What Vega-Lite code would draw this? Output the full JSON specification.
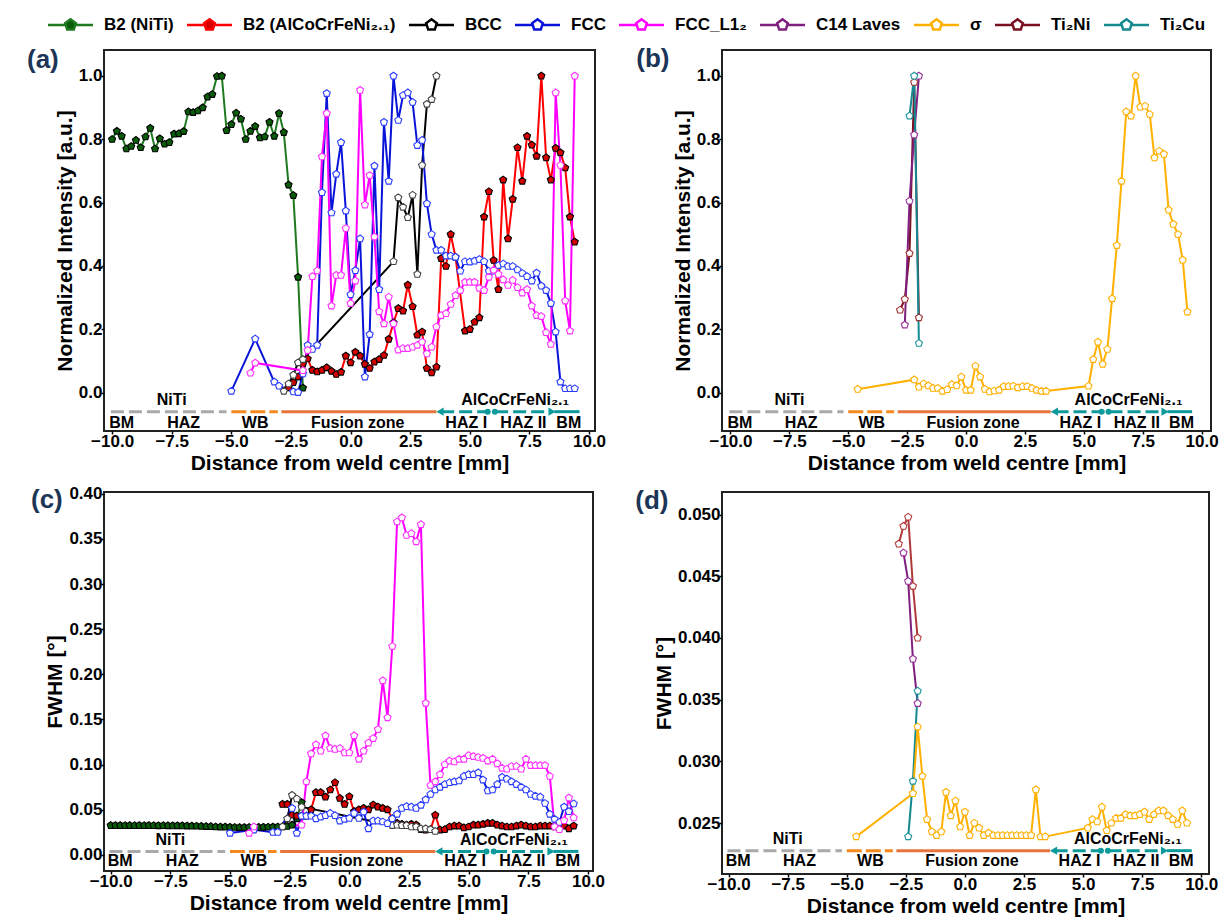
{
"$schema":"https://vega.github.io/schema/vega-lite/v6.json",
"background":"white",
"padding":{"left":25,"top":11,"right":0,"bottom":0},
"config":{"view":{"stroke":"#222","strokeWidth":2},"font":"Liberation Sans",
"axis":{"labelFont":"Liberation Sans","labelFontWeight":"bold","labelFontSize":17,"labelColor":"#000","titleFont":"Liberation Sans","titleFontWeight":"bold","titleFontSize":21,"titleColor":"#000","tickColor":"#000","tickWidth":1.5,"tickSize":3,"labelPadding":-1,"domain":false,"grid":false,"titlePadding":3}},
"datasets":{
"zones":[{"k":"g","x":-10.05,"x2":-5.2},{"k":"o","x":-5.0,"x2":-3.05},{"k":"f","x":-2.9,"x2":3.6},{"k":"t","x":3.8,"x2":8.45},{"k":"s","x":8.55,"x2":9.6}],
"zlab":[{"r":"u","x":-7.5,"t":"NiTi"},{"r":"u","x":6.9,"t":"AlCoCrFeNi₂.₁"},{"r":"l","x":-9.6,"t":"BM"},{"r":"l","x":-7.0,"t":"HAZ"},{"r":"l","x":-4.0,"t":"WB"},{"r":"l","x":0.3,"t":"Fusion zone"},{"r":"l","x":4.85,"t":"HAZ I"},{"r":"l","x":7.25,"t":"HAZ II"},{"r":"l","x":9.15,"t":"BM"}],
"a":[
{"s":"B2N","x":-10,"y":0.8},{"s":"B2N","x":-9.8,"y":0.826},{"s":"B2N","x":-9.6,"y":0.81},{"s":"B2N","x":-9.4,"y":0.77},{"s":"B2N","x":-9.2,"y":0.778},{"s":"B2N","x":-9.0,"y":0.797},{"s":"B2N","x":-8.8,"y":0.774},{"s":"B2N","x":-8.6,"y":0.808},{"s":"B2N","x":-8.4,"y":0.835},{"s":"B2N","x":-8.2,"y":0.77},{"s":"B2N","x":-8.0,"y":0.802},{"s":"B2N","x":-7.8,"y":0.785},{"s":"B2N","x":-7.6,"y":0.79},{"s":"B2N","x":-7.4,"y":0.817},{"s":"B2N","x":-7.2,"y":0.818},{"s":"B2N","x":-7.0,"y":0.825},{"s":"B2N","x":-6.8,"y":0.887},{"s":"B2N","x":-6.6,"y":0.885},{"s":"B2N","x":-6.4,"y":0.89},{"s":"B2N","x":-6.2,"y":0.9},{"s":"B2N","x":-6.0,"y":0.934},{"s":"B2N","x":-5.8,"y":0.942},{"s":"B2N","x":-5.6,"y":0.999},{"s":"B2N","x":-5.4,"y":1.0},{"s":"B2N","x":-5.2,"y":0.828},{"s":"B2N","x":-5.0,"y":0.847},{"s":"B2N","x":-4.8,"y":0.883},{"s":"B2N","x":-4.6,"y":0.864},{"s":"B2N","x":-4.4,"y":0.8},{"s":"B2N","x":-4.2,"y":0.826},{"s":"B2N","x":-4.0,"y":0.841},{"s":"B2N","x":-3.8,"y":0.805},{"s":"B2N","x":-3.6,"y":0.808},{"s":"B2N","x":-3.4,"y":0.854},{"s":"B2N","x":-3.2,"y":0.81},{"s":"B2N","x":-3.0,"y":0.882},{"s":"B2N","x":-2.8,"y":0.822},{"s":"B2N","x":-2.6,"y":0.656},{"s":"B2N","x":-2.4,"y":0.623},{"s":"B2N","x":-2.2,"y":0.365},{"s":"B2N","x":-2.0,"y":0.015},
{"s":"B2A","x":-2.6,"y":0.016},{"s":"B2A","x":-2.4,"y":0.032},{"s":"B2A","x":-2.2,"y":0.05},{"s":"B2A","x":-2.0,"y":0.09},{"s":"B2A","x":-1.8,"y":0.107},{"s":"B2A","x":-1.6,"y":0.071},{"s":"B2A","x":-1.4,"y":0.066},{"s":"B2A","x":-1.2,"y":0.071},{"s":"B2A","x":-1.0,"y":0.079},{"s":"B2A","x":-0.8,"y":0.068},{"s":"B2A","x":-0.6,"y":0.058},{"s":"B2A","x":-0.4,"y":0.065},{"s":"B2A","x":-0.2,"y":0.116},{"s":"B2A","x":0.0,"y":0.095},{"s":"B2A","x":0.2,"y":0.128},{"s":"B2A","x":0.4,"y":0.116},{"s":"B2A","x":0.6,"y":0.09},{"s":"B2A","x":0.8,"y":0.077},{"s":"B2A","x":1.0,"y":0.097},{"s":"B2A","x":1.2,"y":0.105},{"s":"B2A","x":1.4,"y":0.118},{"s":"B2A","x":1.6,"y":0.169},{"s":"B2A","x":1.8,"y":0.221},{"s":"B2A","x":2.0,"y":0.266},{"s":"B2A","x":2.2,"y":0.258},{"s":"B2A","x":2.4,"y":0.34},{"s":"B2A","x":2.6,"y":0.272},{"s":"B2A","x":2.8,"y":0.182},{"s":"B2A","x":3.0,"y":0.192},{"s":"B2A","x":3.2,"y":0.077},{"s":"B2A","x":3.4,"y":0.063},{"s":"B2A","x":3.6,"y":0.081},{"s":"B2A","x":3.8,"y":0.424},{"s":"B2A","x":4.0,"y":0.399},{"s":"B2A","x":4.2,"y":0.5},{"s":"B2A","x":4.4,"y":0.428},{"s":"B2A","x":4.8,"y":0.195},{"s":"B2A","x":5.0,"y":0.2},{"s":"B2A","x":5.2,"y":0.223},{"s":"B2A","x":5.4,"y":0.237},{"s":"B2A","x":5.6,"y":0.555},{"s":"B2A","x":5.8,"y":0.635},{"s":"B2A","x":6.0,"y":0.418},{"s":"B2A","x":6.2,"y":0.326},{"s":"B2A","x":6.4,"y":0.672},{"s":"B2A","x":6.6,"y":0.486},{"s":"B2A","x":6.8,"y":0.611},{"s":"B2A","x":7.0,"y":0.774},{"s":"B2A","x":7.2,"y":0.668},{"s":"B2A","x":7.4,"y":0.81},{"s":"B2A","x":7.6,"y":0.782},{"s":"B2A","x":7.8,"y":0.747},{"s":"B2A","x":8.0,"y":1.0},{"s":"B2A","x":8.2,"y":0.742},{"s":"B2A","x":8.4,"y":0.672},{"s":"B2A","x":8.6,"y":0.772},{"s":"B2A","x":8.8,"y":0.758},{"s":"B2A","x":9.0,"y":0.71},{"s":"B2A","x":9.2,"y":0.555},{"s":"B2A","x":9.4,"y":0.476},
{"s":"BCC","x":-2.8,"y":0.005},{"s":"BCC","x":-2.6,"y":0.028},{"s":"BCC","x":-2.4,"y":0.056},{"s":"BCC","x":-2.2,"y":0.095},{"s":"BCC","x":-2.0,"y":0.105},{"s":"BCC","x":1.8,"y":0.414},{"s":"BCC","x":2.0,"y":0.616},{"s":"BCC","x":2.2,"y":0.586},{"s":"BCC","x":2.4,"y":0.553},{"s":"BCC","x":2.6,"y":0.624},{"s":"BCC","x":2.8,"y":0.374},{"s":"BCC","x":3.0,"y":0.718},{"s":"BCC","x":3.2,"y":0.911},{"s":"BCC","x":3.4,"y":0.926},{"s":"BCC","x":3.6,"y":1.0},
{"s":"FCC","x":-5.0,"y":0.005},{"s":"FCC","x":-4.0,"y":0.17},{"s":"FCC","x":-3.2,"y":0.034},{"s":"FCC","x":-3.0,"y":0.021},{"s":"FCC","x":-2.4,"y":0.003},{"s":"FCC","x":-2.2,"y":0.001},{"s":"FCC","x":-2.0,"y":0.06},{"s":"FCC","x":-1.8,"y":0.15},{"s":"FCC","x":-1.6,"y":0.137},{"s":"FCC","x":-1.4,"y":0.15},{"s":"FCC","x":-1.2,"y":0.632},{"s":"FCC","x":-1.0,"y":0.945},{"s":"FCC","x":-0.8,"y":0.568},{"s":"FCC","x":-0.6,"y":0.69},{"s":"FCC","x":-0.4,"y":0.79},{"s":"FCC","x":-0.2,"y":0.574},{"s":"FCC","x":0.0,"y":0.31},{"s":"FCC","x":0.2,"y":0.386},{"s":"FCC","x":0.4,"y":0.486},{"s":"FCC","x":0.6,"y":0.05},{"s":"FCC","x":0.8,"y":0.184},{"s":"FCC","x":1.0,"y":0.716},{"s":"FCC","x":1.2,"y":0.326},{"s":"FCC","x":1.4,"y":0.854},{"s":"FCC","x":1.6,"y":0.668},{"s":"FCC","x":1.8,"y":1.0},{"s":"FCC","x":2.0,"y":0.86},{"s":"FCC","x":2.2,"y":0.939},{"s":"FCC","x":2.4,"y":0.947},{"s":"FCC","x":2.6,"y":0.917},{"s":"FCC","x":2.8,"y":0.781},{"s":"FCC","x":3.0,"y":0.797},{"s":"FCC","x":3.2,"y":0.597},{"s":"FCC","x":3.4,"y":0.5},{"s":"FCC","x":3.6,"y":0.45},{"s":"FCC","x":3.8,"y":0.45},{"s":"FCC","x":4.0,"y":0.432},{"s":"FCC","x":4.2,"y":0.432},{"s":"FCC","x":4.4,"y":0.428},{"s":"FCC","x":4.6,"y":0.384},{"s":"FCC","x":4.8,"y":0.414},{"s":"FCC","x":5.0,"y":0.413},{"s":"FCC","x":5.2,"y":0.416},{"s":"FCC","x":5.4,"y":0.421},{"s":"FCC","x":5.6,"y":0.414},{"s":"FCC","x":5.8,"y":0.384},{"s":"FCC","x":6.0,"y":0.384},{"s":"FCC","x":6.2,"y":0.402},{"s":"FCC","x":6.4,"y":0.407},{"s":"FCC","x":6.6,"y":0.399},{"s":"FCC","x":6.8,"y":0.399},{"s":"FCC","x":7.0,"y":0.388},{"s":"FCC","x":7.2,"y":0.377},{"s":"FCC","x":7.4,"y":0.367},{"s":"FCC","x":7.6,"y":0.353},{"s":"FCC","x":7.8,"y":0.378},{"s":"FCC","x":8.0,"y":0.337},{"s":"FCC","x":8.2,"y":0.323},{"s":"FCC","x":8.4,"y":0.282},{"s":"FCC","x":8.6,"y":0.192},{"s":"FCC","x":8.8,"y":0.034},{"s":"FCC","x":9.0,"y":0.013},{"s":"FCC","x":9.2,"y":0.013},{"s":"FCC","x":9.4,"y":0.013},
{"s":"L12","x":-4.2,"y":0.062},{"s":"L12","x":-4.0,"y":0.094},{"s":"L12","x":-2.0,"y":0.07},{"s":"L12","x":-1.8,"y":0.134},{"s":"L12","x":-1.6,"y":0.367},{"s":"L12","x":-1.4,"y":0.385},{"s":"L12","x":-1.2,"y":0.745},{"s":"L12","x":-1.0,"y":0.882},{"s":"L12","x":-0.8,"y":0.274},{"s":"L12","x":-0.6,"y":0.371},{"s":"L12","x":-0.4,"y":0.371},{"s":"L12","x":-0.2,"y":0.519},{"s":"L12","x":0.0,"y":0.282},{"s":"L12","x":0.2,"y":0.353},{"s":"L12","x":0.4,"y":0.955},{"s":"L12","x":0.6,"y":0.593},{"s":"L12","x":0.8,"y":0.686},{"s":"L12","x":1.0,"y":0.492},{"s":"L12","x":1.2,"y":0.256},{"s":"L12","x":1.4,"y":0.218},{"s":"L12","x":1.6,"y":0.302},{"s":"L12","x":1.8,"y":0.218},{"s":"L12","x":2.0,"y":0.135},{"s":"L12","x":2.2,"y":0.14},{"s":"L12","x":2.4,"y":0.14},{"s":"L12","x":2.6,"y":0.144},{"s":"L12","x":2.8,"y":0.15},{"s":"L12","x":3.0,"y":0.16},{"s":"L12","x":3.2,"y":0.123},{"s":"L12","x":3.4,"y":0.144},{"s":"L12","x":3.6,"y":0.208},{"s":"L12","x":3.8,"y":0.244},{"s":"L12","x":4.0,"y":0.25},{"s":"L12","x":4.2,"y":0.279},{"s":"L12","x":4.4,"y":0.307},{"s":"L12","x":4.6,"y":0.323},{"s":"L12","x":4.8,"y":0.349},{"s":"L12","x":5.0,"y":0.349},{"s":"L12","x":5.2,"y":0.349},{"s":"L12","x":5.4,"y":0.33},{"s":"L12","x":5.6,"y":0.323},{"s":"L12","x":5.8,"y":0.365},{"s":"L12","x":6.0,"y":0.387},{"s":"L12","x":6.2,"y":0.374},{"s":"L12","x":6.4,"y":0.357},{"s":"L12","x":6.6,"y":0.339},{"s":"L12","x":6.8,"y":0.355},{"s":"L12","x":7.0,"y":0.332},{"s":"L12","x":7.2,"y":0.315},{"s":"L12","x":7.4,"y":0.326},{"s":"L12","x":7.6,"y":0.274},{"s":"L12","x":7.8,"y":0.244},{"s":"L12","x":8.0,"y":0.241},{"s":"L12","x":8.2,"y":0.19},{"s":"L12","x":8.4,"y":0.153},{"s":"L12","x":8.6,"y":0.947},{"s":"L12","x":8.8,"y":0.718},{"s":"L12","x":9.0,"y":0.29},{"s":"L12","x":9.2,"y":0.195},{"s":"L12","x":9.4,"y":1.0}
],
"b":[
{"s":"T2N","x":-2.8,"y":0.261},{"s":"T2N","x":-2.6,"y":0.295},{"s":"T2N","x":-2.4,"y":0.44},{"s":"T2N","x":-2.2,"y":0.98},{"s":"T2N","x":-2.0,"y":0.237},
{"s":"C14","x":-2.6,"y":0.214},{"s":"C14","x":-2.4,"y":0.605},{"s":"C14","x":-2.2,"y":0.814},{"s":"C14","x":-2.0,"y":1.0},
{"s":"T2C","x":-2.4,"y":0.874},{"s":"T2C","x":-2.2,"y":1.0},{"s":"T2C","x":-2.0,"y":0.156},
{"s":"SIG","x":-4.6,"y":0.011},{"s":"SIG","x":-2.2,"y":0.041},{"s":"SIG","x":-2.0,"y":0.018},{"s":"SIG","x":-1.8,"y":0.028},{"s":"SIG","x":-1.6,"y":0.022},{"s":"SIG","x":-1.4,"y":0.014},{"s":"SIG","x":-1.2,"y":0.014},{"s":"SIG","x":-1.0,"y":0.005},{"s":"SIG","x":-0.8,"y":0.01},{"s":"SIG","x":-0.6,"y":0.026},{"s":"SIG","x":-0.4,"y":0.022},{"s":"SIG","x":-0.2,"y":0.05},{"s":"SIG","x":0.0,"y":0.008},{"s":"SIG","x":0.2,"y":0.008},{"s":"SIG","x":0.4,"y":0.084},{"s":"SIG","x":0.6,"y":0.05},{"s":"SIG","x":0.8,"y":0.011},{"s":"SIG","x":1.0,"y":0.003},{"s":"SIG","x":1.2,"y":0.006},{"s":"SIG","x":1.4,"y":0.008},{"s":"SIG","x":1.6,"y":0.02},{"s":"SIG","x":1.8,"y":0.02},{"s":"SIG","x":2.0,"y":0.021},{"s":"SIG","x":2.2,"y":0.016},{"s":"SIG","x":2.4,"y":0.02},{"s":"SIG","x":2.6,"y":0.02},{"s":"SIG","x":2.8,"y":0.014},{"s":"SIG","x":3.0,"y":0.008},{"s":"SIG","x":3.2,"y":0.005},{"s":"SIG","x":3.4,"y":0.005},{"s":"SIG","x":5.2,"y":0.021},{"s":"SIG","x":5.4,"y":0.105},{"s":"SIG","x":5.6,"y":0.16},{"s":"SIG","x":5.8,"y":0.09},{"s":"SIG","x":6.0,"y":0.137},{"s":"SIG","x":6.2,"y":0.297},{"s":"SIG","x":6.4,"y":0.465},{"s":"SIG","x":6.6,"y":0.668},{"s":"SIG","x":6.8,"y":0.887},{"s":"SIG","x":7.0,"y":0.874},{"s":"SIG","x":7.2,"y":1.0},{"s":"SIG","x":7.4,"y":0.902},{"s":"SIG","x":7.6,"y":0.905},{"s":"SIG","x":7.8,"y":0.879},{"s":"SIG","x":8.0,"y":0.742},{"s":"SIG","x":8.2,"y":0.763},{"s":"SIG","x":8.4,"y":0.753},{"s":"SIG","x":8.6,"y":0.577},{"s":"SIG","x":8.8,"y":0.532},{"s":"SIG","x":9.0,"y":0.5},{"s":"SIG","x":9.2,"y":0.419},{"s":"SIG","x":9.4,"y":0.255}
],
"c":[
{"s":"B2N","x":-10,"y":0.0325},{"s":"B2N","x":-9.8,"y":0.0325},{"s":"B2N","x":-9.6,"y":0.0325},{"s":"B2N","x":-9.4,"y":0.0324},{"s":"B2N","x":-9.2,"y":0.0325},{"s":"B2N","x":-9.0,"y":0.0324},{"s":"B2N","x":-8.8,"y":0.0325},{"s":"B2N","x":-8.6,"y":0.0324},{"s":"B2N","x":-8.4,"y":0.0325},{"s":"B2N","x":-8.2,"y":0.0324},{"s":"B2N","x":-8.0,"y":0.0323},{"s":"B2N","x":-7.8,"y":0.0324},{"s":"B2N","x":-7.6,"y":0.0323},{"s":"B2N","x":-7.4,"y":0.0322},{"s":"B2N","x":-7.2,"y":0.0323},{"s":"B2N","x":-7.0,"y":0.0322},{"s":"B2N","x":-6.8,"y":0.032},{"s":"B2N","x":-6.6,"y":0.0319},{"s":"B2N","x":-6.4,"y":0.0318},{"s":"B2N","x":-6.2,"y":0.0316},{"s":"B2N","x":-6.0,"y":0.0315},{"s":"B2N","x":-5.8,"y":0.0313},{"s":"B2N","x":-5.6,"y":0.031},{"s":"B2N","x":-5.4,"y":0.0309},{"s":"B2N","x":-5.2,"y":0.0308},{"s":"B2N","x":-5.0,"y":0.0306},{"s":"B2N","x":-4.8,"y":0.0304},{"s":"B2N","x":-4.6,"y":0.0303},{"s":"B2N","x":-4.4,"y":0.0303},{"s":"B2N","x":-4.2,"y":0.0304},{"s":"B2N","x":-4.0,"y":0.0305},{"s":"B2N","x":-3.8,"y":0.0305},{"s":"B2N","x":-3.6,"y":0.0306},{"s":"B2N","x":-3.4,"y":0.0307},{"s":"B2N","x":-3.2,"y":0.0308},{"s":"B2N","x":-3.0,"y":0.0309},{"s":"B2N","x":-2.8,"y":0.0312},{"s":"B2N","x":-2.6,"y":0.0316},{"s":"B2N","x":-2.4,"y":0.033},{"s":"B2N","x":-2.2,"y":0.04},{"s":"B2N","x":-2.0,"y":0.058},
{"s":"B2A","x":-2.8,"y":0.056},{"s":"B2A","x":-2.6,"y":0.056},{"s":"B2A","x":-2.4,"y":0.044},{"s":"B2A","x":-2.2,"y":0.043},{"s":"B2A","x":-2.0,"y":0.043},{"s":"B2A","x":-1.8,"y":0.043},{"s":"B2A","x":-1.6,"y":0.05},{"s":"B2A","x":-1.4,"y":0.069},{"s":"B2A","x":-1.2,"y":0.069},{"s":"B2A","x":-1.0,"y":0.064},{"s":"B2A","x":-0.8,"y":0.072},{"s":"B2A","x":-0.6,"y":0.08},{"s":"B2A","x":-0.4,"y":0.0626},{"s":"B2A","x":-0.2,"y":0.056},{"s":"B2A","x":0.0,"y":0.0645},{"s":"B2A","x":0.2,"y":0.048},{"s":"B2A","x":0.4,"y":0.05},{"s":"B2A","x":0.6,"y":0.0516},{"s":"B2A","x":0.8,"y":0.05},{"s":"B2A","x":1.0,"y":0.0553},{"s":"B2A","x":1.2,"y":0.053},{"s":"B2A","x":1.4,"y":0.0516},{"s":"B2A","x":1.6,"y":0.05},{"s":"B2A","x":1.8,"y":0.04},{"s":"B2A","x":2.0,"y":0.035},{"s":"B2A","x":2.2,"y":0.034},{"s":"B2A","x":2.4,"y":0.033},{"s":"B2A","x":2.6,"y":0.034},{"s":"B2A","x":2.8,"y":0.033},{"s":"B2A","x":3.0,"y":0.028},{"s":"B2A","x":3.2,"y":0.0276},{"s":"B2A","x":3.4,"y":0.028},{"s":"B2A","x":3.6,"y":0.044},{"s":"B2A","x":3.8,"y":0.0276},{"s":"B2A","x":4.0,"y":0.028},{"s":"B2A","x":4.2,"y":0.031},{"s":"B2A","x":4.4,"y":0.032},{"s":"B2A","x":4.6,"y":0.032},{"s":"B2A","x":4.8,"y":0.03},{"s":"B2A","x":5.0,"y":0.031},{"s":"B2A","x":5.2,"y":0.033},{"s":"B2A","x":5.4,"y":0.033},{"s":"B2A","x":5.6,"y":0.034},{"s":"B2A","x":5.8,"y":0.035},{"s":"B2A","x":6.0,"y":0.035},{"s":"B2A","x":6.2,"y":0.033},{"s":"B2A","x":6.4,"y":0.032},{"s":"B2A","x":6.6,"y":0.031},{"s":"B2A","x":6.8,"y":0.031},{"s":"B2A","x":7.0,"y":0.032},{"s":"B2A","x":7.2,"y":0.033},{"s":"B2A","x":7.4,"y":0.032},{"s":"B2A","x":7.6,"y":0.031},{"s":"B2A","x":7.8,"y":0.031},{"s":"B2A","x":8.0,"y":0.032},{"s":"B2A","x":8.2,"y":0.032},{"s":"B2A","x":8.4,"y":0.032},{"s":"B2A","x":8.6,"y":0.031},{"s":"B2A","x":8.8,"y":0.031},{"s":"B2A","x":9.0,"y":0.032},{"s":"B2A","x":9.2,"y":0.029},{"s":"B2A","x":9.4,"y":0.032},
{"s":"BCC","x":-2.8,"y":0.031},{"s":"BCC","x":-2.6,"y":0.04},{"s":"BCC","x":-2.4,"y":0.066},{"s":"BCC","x":-2.2,"y":0.062},{"s":"BCC","x":-2.0,"y":0.053},{"s":"BCC","x":1.8,"y":0.0326},{"s":"BCC","x":2.0,"y":0.033},{"s":"BCC","x":2.2,"y":0.0324},{"s":"BCC","x":2.4,"y":0.0324},{"s":"BCC","x":2.6,"y":0.031},{"s":"BCC","x":2.8,"y":0.031},{"s":"BCC","x":3.0,"y":0.029},{"s":"BCC","x":3.2,"y":0.029},{"s":"BCC","x":3.4,"y":0.028},{"s":"BCC","x":3.6,"y":0.026},
{"s":"FCC","x":-5.0,"y":0.024},{"s":"FCC","x":-4.0,"y":0.0276},{"s":"FCC","x":-3.2,"y":0.025},{"s":"FCC","x":-3.0,"y":0.025},{"s":"FCC","x":-2.4,"y":0.0516},{"s":"FCC","x":-2.2,"y":0.024},{"s":"FCC","x":-2.0,"y":0.043},{"s":"FCC","x":-1.8,"y":0.043},{"s":"FCC","x":-1.6,"y":0.043},{"s":"FCC","x":-1.4,"y":0.04},{"s":"FCC","x":-1.2,"y":0.042},{"s":"FCC","x":-1.0,"y":0.0435},{"s":"FCC","x":-0.8,"y":0.046},{"s":"FCC","x":-0.6,"y":0.0435},{"s":"FCC","x":-0.4,"y":0.0376},{"s":"FCC","x":-0.2,"y":0.0395},{"s":"FCC","x":0.0,"y":0.0405},{"s":"FCC","x":0.2,"y":0.046},{"s":"FCC","x":0.4,"y":0.0405},{"s":"FCC","x":0.6,"y":0.0475},{"s":"FCC","x":0.8,"y":0.029},{"s":"FCC","x":1.0,"y":0.0376},{"s":"FCC","x":1.2,"y":0.0376},{"s":"FCC","x":1.4,"y":0.0365},{"s":"FCC","x":1.6,"y":0.0347},{"s":"FCC","x":1.8,"y":0.04},{"s":"FCC","x":2.0,"y":0.045},{"s":"FCC","x":2.2,"y":0.0516},{"s":"FCC","x":2.4,"y":0.0535},{"s":"FCC","x":2.6,"y":0.053},{"s":"FCC","x":2.8,"y":0.0516},{"s":"FCC","x":3.0,"y":0.055},{"s":"FCC","x":3.2,"y":0.061},{"s":"FCC","x":3.4,"y":0.067},{"s":"FCC","x":3.6,"y":0.072},{"s":"FCC","x":3.8,"y":0.075},{"s":"FCC","x":4.0,"y":0.078},{"s":"FCC","x":4.2,"y":0.08},{"s":"FCC","x":4.4,"y":0.081},{"s":"FCC","x":4.6,"y":0.082},{"s":"FCC","x":4.8,"y":0.087},{"s":"FCC","x":5.0,"y":0.089},{"s":"FCC","x":5.2,"y":0.089},{"s":"FCC","x":5.4,"y":0.091},{"s":"FCC","x":5.6,"y":0.083},{"s":"FCC","x":5.8,"y":0.071},{"s":"FCC","x":6.0,"y":0.072},{"s":"FCC","x":6.2,"y":0.078},{"s":"FCC","x":6.4,"y":0.086},{"s":"FCC","x":6.6,"y":0.084},{"s":"FCC","x":6.8,"y":0.081},{"s":"FCC","x":7.0,"y":0.078},{"s":"FCC","x":7.2,"y":0.075},{"s":"FCC","x":7.4,"y":0.072},{"s":"FCC","x":7.6,"y":0.067},{"s":"FCC","x":7.8,"y":0.065},{"s":"FCC","x":8.0,"y":0.064},{"s":"FCC","x":8.2,"y":0.057},{"s":"FCC","x":8.4,"y":0.045},{"s":"FCC","x":8.6,"y":0.0395},{"s":"FCC","x":8.8,"y":0.036},{"s":"FCC","x":9.0,"y":0.053},{"s":"FCC","x":9.2,"y":0.048},{"s":"FCC","x":9.4,"y":0.0565},
{"s":"L12","x":-4.2,"y":0.024},{"s":"L12","x":-4.0,"y":0.031},{"s":"L12","x":-2.0,"y":0.033},{"s":"L12","x":-1.8,"y":0.081},{"s":"L12","x":-1.6,"y":0.112},{"s":"L12","x":-1.4,"y":0.122},{"s":"L12","x":-1.2,"y":0.115},{"s":"L12","x":-1.0,"y":0.132},{"s":"L12","x":-0.8,"y":0.118},{"s":"L12","x":-0.6,"y":0.117},{"s":"L12","x":-0.4,"y":0.118},{"s":"L12","x":-0.2,"y":0.113},{"s":"L12","x":0.0,"y":0.113},{"s":"L12","x":0.2,"y":0.132},{"s":"L12","x":0.4,"y":0.106},{"s":"L12","x":0.6,"y":0.115},{"s":"L12","x":0.8,"y":0.124},{"s":"L12","x":1.0,"y":0.129},{"s":"L12","x":1.2,"y":0.139},{"s":"L12","x":1.4,"y":0.193},{"s":"L12","x":1.6,"y":0.152},{"s":"L12","x":1.8,"y":0.231},{"s":"L12","x":2.0,"y":0.369},{"s":"L12","x":2.2,"y":0.3735},{"s":"L12","x":2.4,"y":0.354},{"s":"L12","x":2.6,"y":0.356},{"s":"L12","x":2.8,"y":0.347},{"s":"L12","x":3.0,"y":0.366},{"s":"L12","x":3.2,"y":0.168},{"s":"L12","x":3.4,"y":0.077},{"s":"L12","x":3.6,"y":0.081},{"s":"L12","x":3.8,"y":0.089},{"s":"L12","x":4.0,"y":0.1},{"s":"L12","x":4.2,"y":0.104},{"s":"L12","x":4.4,"y":0.103},{"s":"L12","x":4.6,"y":0.106},{"s":"L12","x":4.8,"y":0.106},{"s":"L12","x":5.0,"y":0.11},{"s":"L12","x":5.2,"y":0.109},{"s":"L12","x":5.4,"y":0.108},{"s":"L12","x":5.6,"y":0.107},{"s":"L12","x":5.8,"y":0.104},{"s":"L12","x":6.0,"y":0.106},{"s":"L12","x":6.2,"y":0.101},{"s":"L12","x":6.4,"y":0.096},{"s":"L12","x":6.6,"y":0.095},{"s":"L12","x":6.8,"y":0.098},{"s":"L12","x":7.0,"y":0.098},{"s":"L12","x":7.2,"y":0.095},{"s":"L12","x":7.4,"y":0.106},{"s":"L12","x":7.6,"y":0.099},{"s":"L12","x":7.8,"y":0.099},{"s":"L12","x":8.0,"y":0.099},{"s":"L12","x":8.2,"y":0.099},{"s":"L12","x":8.4,"y":0.087},{"s":"L12","x":8.6,"y":0.031},{"s":"L12","x":8.8,"y":0.028},{"s":"L12","x":9.0,"y":0.038},{"s":"L12","x":9.2,"y":0.063},{"s":"L12","x":9.4,"y":0.041}
],
"d":[
{"s":"T2N","x":-2.8,"y":0.04762},{"s":"T2N","x":-2.6,"y":0.04906},{"s":"T2N","x":-2.4,"y":0.0498},{"s":"T2N","x":-2.2,"y":0.0442},{"s":"T2N","x":-2.0,"y":0.04},
{"s":"C14","x":-2.6,"y":0.0469},{"s":"C14","x":-2.4,"y":0.0446},{"s":"C14","x":-2.2,"y":0.0383},{"s":"C14","x":-2.0,"y":0.0347},
{"s":"T2C","x":-2.4,"y":0.0239},{"s":"T2C","x":-2.2,"y":0.0284},{"s":"T2C","x":-2.0,"y":0.0357},
{"s":"SIG","x":-4.6,"y":0.0239},{"s":"SIG","x":-2.2,"y":0.0274},{"s":"SIG","x":-2.0,"y":0.0328},{"s":"SIG","x":-1.8,"y":0.0288},{"s":"SIG","x":-1.6,"y":0.0253},{"s":"SIG","x":-1.4,"y":0.0243},{"s":"SIG","x":-1.2,"y":0.024},{"s":"SIG","x":-1.0,"y":0.0243},{"s":"SIG","x":-0.8,"y":0.0275},{"s":"SIG","x":-0.6,"y":0.0256},{"s":"SIG","x":-0.4,"y":0.0268},{"s":"SIG","x":-0.2,"y":0.0247},{"s":"SIG","x":0.0,"y":0.0259},{"s":"SIG","x":0.2,"y":0.024},{"s":"SIG","x":0.4,"y":0.025},{"s":"SIG","x":0.6,"y":0.0246},{"s":"SIG","x":0.8,"y":0.024},{"s":"SIG","x":1.0,"y":0.0242},{"s":"SIG","x":1.2,"y":0.024},{"s":"SIG","x":1.4,"y":0.024},{"s":"SIG","x":1.6,"y":0.024},{"s":"SIG","x":1.8,"y":0.024},{"s":"SIG","x":2.0,"y":0.024},{"s":"SIG","x":2.2,"y":0.024},{"s":"SIG","x":2.4,"y":0.024},{"s":"SIG","x":2.6,"y":0.024},{"s":"SIG","x":2.8,"y":0.024},{"s":"SIG","x":3.0,"y":0.0277},{"s":"SIG","x":3.2,"y":0.0239},{"s":"SIG","x":3.4,"y":0.0239},{"s":"SIG","x":5.2,"y":0.0246},{"s":"SIG","x":5.4,"y":0.0253},{"s":"SIG","x":5.6,"y":0.0251},{"s":"SIG","x":5.8,"y":0.0263},{"s":"SIG","x":6.0,"y":0.0244},{"s":"SIG","x":6.2,"y":0.025},{"s":"SIG","x":6.4,"y":0.0254},{"s":"SIG","x":6.6,"y":0.0254},{"s":"SIG","x":6.8,"y":0.0257},{"s":"SIG","x":7.0,"y":0.0256},{"s":"SIG","x":7.2,"y":0.0256},{"s":"SIG","x":7.4,"y":0.0257},{"s":"SIG","x":7.6,"y":0.0259},{"s":"SIG","x":7.8,"y":0.0253},{"s":"SIG","x":8.0,"y":0.0257},{"s":"SIG","x":8.2,"y":0.026},{"s":"SIG","x":8.4,"y":0.026},{"s":"SIG","x":8.6,"y":0.0256},{"s":"SIG","x":8.8,"y":0.0253},{"s":"SIG","x":9.0,"y":0.0249},{"s":"SIG","x":9.2,"y":0.026},{"s":"SIG","x":9.4,"y":0.025}
]
},
"resolve":{"scale":{"color":"independent","fill":"independent","stroke":"independent"},"legend":{"color":"independent","fill":"independent"}},
"bounds":"flush",
"columns":2,
"spacing":{"row":61,"column":127},
"concat":[
{"width":491,"height":381,
"layer":[
{"data":{"name":"a"},"mark":{"type":"line","strokeWidth":2},"encoding":{"x":{"field":"x","type":"quantitative","scale":{"domain":[-10.34,10.25],"nice":false,"zero":false},"axis":{"values":[-10,-7.5,-5,-2.5,0,2.5,5,7.5,10],"format":".1f","title":"Distance from weld centre [mm]"}},
"y":{"field":"y","type":"quantitative","scale":{"domain":[-0.121,1.082],"nice":false,"zero":false},"axis":{"values":[0,0.2,0.4,0.6,0.8,1.0],"format":".1f","title":"Normalized Intensity [a.u.]"}},
"color":{"field":"s","type":"nominal","scale":{"domain":["B2N","B2A","BCC","FCC","L12","C14","SIG","T2N","T2C"],"range":["#1f7a1f","#ff0000","#000000","#0a14d8","#ff00ff","#7f1f7f","#ffb000","#7a1022","#14898f"]},
"legend":{"orient":"none","legendX":-46,"legendY":-38,"direction":"horizontal","columns":9,"title":null,"symbolType":"M-2,0H-0.45M0.45,0H2M0,-0.5L0.476,-0.155L0.294,0.405L-0.294,0.405L-0.476,-0.155Z","symbolSize":506,"symbolStrokeWidth":2.5,"labelFont":"Liberation Sans","labelFontWeight":"bold","labelFontSize":17,"labelColor":"#000","labelOffset":21,"columnPadding":8,"labelExpr":"datum.label=='B2N'?'B2 (NiTi)':datum.label=='B2A'?'B2 (AlCoCrFeNi₂.₁)':datum.label=='L12'?'FCC_L1₂':datum.label=='SIG'?'σ':datum.label=='T2N'?'Ti₂Ni':datum.label=='T2C'?'Ti₂Cu':datum.label=='C14'?'C14 Laves':datum.label"}}}},
{"data":{"name":"a"},"mark":{"type":"point","shape":"M0,-1L0.951,-0.309L0.588,0.809L-0.588,0.809L-0.951,-0.309Z","size":55,"filled":true,"strokeWidth":1.1,"opacity":1},"encoding":{"x":{"field":"x","type":"quantitative"},"y":{"field":"y","type":"quantitative"},"fill":{"field":"s","type":"nominal","scale":{"domain":["B2N","B2A","BCC","FCC","L12","C14","SIG","T2N","T2C"],"range":["#0a5c0a","#d40000","#ffffff","#ffffff","#ffffff","#ffffff","#ffffff","#ffffff","#ffffff"]},
"legend":{"orient":"none","legendX":-46,"legendY":-38,"direction":"horizontal","columns":9,"title":null,"symbolType":"M-2,0H-0.45M0.45,0H2M0,-0.5L0.476,-0.155L0.294,0.405L-0.294,0.405L-0.476,-0.155Z","symbolSize":506,"symbolStrokeWidth":2.5,"labelFont":"Liberation Sans","labelFontWeight":"bold","labelFontSize":17,"labelColor":"#000","labelOffset":21,"columnPadding":8,"labelExpr":"datum.label=='B2N'?'B2 (NiTi)':datum.label=='B2A'?'B2 (AlCoCrFeNi₂.₁)':datum.label=='L12'?'FCC_L1₂':datum.label=='SIG'?'σ':datum.label=='T2N'?'Ti₂Ni':datum.label=='T2C'?'Ti₂Cu':datum.label=='C14'?'C14 Laves':datum.label"}},
"stroke":{"field":"s","type":"nominal","scale":{"domain":["B2N","B2A","BCC","FCC","L12","C14","SIG","T2N","T2C"],"range":["#000000","#000000","#444444","#2a3cff","#ff30ff","#9a2f9a","#ffb000","#a03030","#1a959b"]},"legend":null}}},
{"data":{"name":"zones"},"transform":[{"filter":"datum.k=='g'"}],"mark":{"type":"rule","color":"#a9a9a9","strokeWidth":3,"strokeDash":[13,5]},"encoding":{"x":{"field":"x","type":"quantitative"},"x2":{"field":"x2"},"y":{"datum":-0.06}}},
{"data":{"name":"zones"},"transform":[{"filter":"datum.k=='o'"}],"mark":{"type":"rule","color":"#f5891f","strokeWidth":3,"strokeDash":[15,4]},"encoding":{"x":{"field":"x","type":"quantitative"},"x2":{"field":"x2"},"y":{"datum":-0.06}}},
{"data":{"name":"zones"},"transform":[{"filter":"datum.k=='f'"}],"mark":{"type":"rule","color":"#e8743b","strokeWidth":3},"encoding":{"x":{"field":"x","type":"quantitative"},"x2":{"field":"x2"},"y":{"datum":-0.06}}},
{"data":{"name":"zones"},"transform":[{"filter":"datum.k=='t'"}],"mark":{"type":"rule","color":"#0e9a9a","strokeWidth":3,"strokeDash":[13,5]},"encoding":{"x":{"field":"x","type":"quantitative"},"x2":{"field":"x2"},"y":{"datum":-0.06}}},
{"data":{"name":"zones"},"transform":[{"filter":"datum.k=='s'"}],"mark":{"type":"rule","color":"#0e9a9a","strokeWidth":3},"encoding":{"x":{"field":"x","type":"quantitative"},"x2":{"field":"x2"},"y":{"datum":-0.06}}},
{"data":{"values":[{}]},"mark":{"type":"point","shape":"triangle-left","filled":true,"color":"#0e9a9a","size":70,"opacity":1},"encoding":{"x":{"datum":3.75},"y":{"datum":-0.06}}},
{"data":{"values":[{}]},"mark":{"type":"point","shape":"triangle-right","filled":true,"color":"#0e9a9a","size":70,"opacity":1},"encoding":{"x":{"datum":8.45},"y":{"datum":-0.06}}},
{"data":{"values":[{}]},"mark":{"type":"point","shape":"circle","filled":true,"color":"#0e9a9a","size":35,"opacity":1},"encoding":{"x":{"datum":5.75},"y":{"datum":-0.06}}},
{"data":{"values":[{}]},"mark":{"type":"point","shape":"circle","filled":true,"color":"#0e9a9a","size":35,"opacity":1},"encoding":{"x":{"datum":6.05},"y":{"datum":-0.06}}},
{"data":{"name":"zlab"},"transform":[{"filter":"datum.r=='u'"}],"mark":{"type":"text","font":"Liberation Sans","fontWeight":"bold","fontSize":16,"color":"#000"},"encoding":{"x":{"field":"x","type":"quantitative"},"text":{"field":"t","type":"nominal"},"y":{"datum":-0.024}}},
{"data":{"name":"zlab"},"transform":[{"filter":"datum.r=='l'"}],"mark":{"type":"text","font":"Liberation Sans","fontWeight":"bold","fontSize":16,"color":"#000"},"encoding":{"x":{"field":"x","type":"quantitative"},"text":{"field":"t","type":"nominal"},"y":{"datum":-0.095}}},
{"data":{"values":[{}]},"mark":{"type":"text","text":"(a)","align":"left","baseline":"top","font":"Liberation Sans","fontWeight":"bold","fontSize":26,"color":"#1c3557"},"encoding":{"x":{"datum":-13.57},"y":{"datum":1.091}}}
]},
{"width":489,"height":381,
"layer":[
{"data":{"name":"b"},"mark":{"type":"line","strokeWidth":2},"encoding":{"x":{"field":"x","type":"quantitative","scale":{"domain":[-10.36,10.4],"nice":false,"zero":false},"axis":{"values":[-10,-7.5,-5,-2.5,0,2.5,5,7.5,10],"format":".1f","title":"Distance from weld centre [mm]"}},
"y":{"field":"y","type":"quantitative","scale":{"domain":[-0.121,1.082],"nice":false,"zero":false},"axis":{"values":[0,0.2,0.4,0.6,0.8,1.0],"format":".1f","title":"Normalized Intensity [a.u.]"}},
"color":{"field":"s","type":"nominal","scale":{"domain":["B2N","B2A","BCC","FCC","L12","C14","SIG","T2N","T2C"],"range":["#1f7a1f","#ff0000","#000000","#0a14d8","#ff00ff","#7f1f7f","#ffb000","#7a1022","#14898f"]},"legend":null}}},
{"data":{"name":"b"},"mark":{"type":"point","shape":"M0,-1L0.951,-0.309L0.588,0.809L-0.588,0.809L-0.951,-0.309Z","size":55,"filled":true,"strokeWidth":1.1,"opacity":1},"encoding":{"x":{"field":"x","type":"quantitative"},"y":{"field":"y","type":"quantitative"},"fill":{"field":"s","type":"nominal","scale":{"domain":["B2N","B2A","BCC","FCC","L12","C14","SIG","T2N","T2C"],"range":["#0a5c0a","#d40000","#ffffff","#ffffff","#ffffff","#ffffff","#ffffff","#ffffff","#ffffff"]},"legend":null},
"stroke":{"field":"s","type":"nominal","scale":{"domain":["B2N","B2A","BCC","FCC","L12","C14","SIG","T2N","T2C"],"range":["#000000","#000000","#444444","#2a3cff","#ff30ff","#9a2f9a","#ffb000","#a03030","#1a959b"]},"legend":null}}},
{"data":{"name":"zones"},"transform":[{"filter":"datum.k=='g'"}],"mark":{"type":"rule","color":"#a9a9a9","strokeWidth":3,"strokeDash":[13,5]},"encoding":{"x":{"field":"x","type":"quantitative"},"x2":{"field":"x2"},"y":{"datum":-0.06}}},
{"data":{"name":"zones"},"transform":[{"filter":"datum.k=='o'"}],"mark":{"type":"rule","color":"#f5891f","strokeWidth":3,"strokeDash":[15,4]},"encoding":{"x":{"field":"x","type":"quantitative"},"x2":{"field":"x2"},"y":{"datum":-0.06}}},
{"data":{"name":"zones"},"transform":[{"filter":"datum.k=='f'"}],"mark":{"type":"rule","color":"#e8743b","strokeWidth":3},"encoding":{"x":{"field":"x","type":"quantitative"},"x2":{"field":"x2"},"y":{"datum":-0.06}}},
{"data":{"name":"zones"},"transform":[{"filter":"datum.k=='t'"}],"mark":{"type":"rule","color":"#0e9a9a","strokeWidth":3,"strokeDash":[13,5]},"encoding":{"x":{"field":"x","type":"quantitative"},"x2":{"field":"x2"},"y":{"datum":-0.06}}},
{"data":{"name":"zones"},"transform":[{"filter":"datum.k=='s'"}],"mark":{"type":"rule","color":"#0e9a9a","strokeWidth":3},"encoding":{"x":{"field":"x","type":"quantitative"},"x2":{"field":"x2"},"y":{"datum":-0.06}}},
{"data":{"values":[{}]},"mark":{"type":"point","shape":"triangle-left","filled":true,"color":"#0e9a9a","size":70,"opacity":1},"encoding":{"x":{"datum":3.75},"y":{"datum":-0.06}}},
{"data":{"values":[{}]},"mark":{"type":"point","shape":"triangle-right","filled":true,"color":"#0e9a9a","size":70,"opacity":1},"encoding":{"x":{"datum":8.45},"y":{"datum":-0.06}}},
{"data":{"values":[{}]},"mark":{"type":"point","shape":"circle","filled":true,"color":"#0e9a9a","size":35,"opacity":1},"encoding":{"x":{"datum":5.75},"y":{"datum":-0.06}}},
{"data":{"values":[{}]},"mark":{"type":"point","shape":"circle","filled":true,"color":"#0e9a9a","size":35,"opacity":1},"encoding":{"x":{"datum":6.05},"y":{"datum":-0.06}}},
{"data":{"name":"zlab"},"transform":[{"filter":"datum.r=='u'"}],"mark":{"type":"text","font":"Liberation Sans","fontWeight":"bold","fontSize":16,"color":"#000"},"encoding":{"x":{"field":"x","type":"quantitative"},"text":{"field":"t","type":"nominal"},"y":{"datum":-0.024}}},
{"data":{"name":"zlab"},"transform":[{"filter":"datum.r=='l'"}],"mark":{"type":"text","font":"Liberation Sans","fontWeight":"bold","fontSize":16,"color":"#000"},"encoding":{"x":{"field":"x","type":"quantitative"},"text":{"field":"t","type":"nominal"},"y":{"datum":-0.095}}},
{"data":{"values":[{}]},"mark":{"type":"text","text":"(b)","align":"left","baseline":"top","font":"Liberation Sans","fontWeight":"bold","fontSize":26,"color":"#1c3557"},"encoding":{"x":{"datum":-14.0},"y":{"datum":1.094}}}
]},
{"width":489,"height":379,
"layer":[
{"data":{"name":"c"},"mark":{"type":"line","strokeWidth":2},"encoding":{"x":{"field":"x","type":"quantitative","scale":{"domain":[-10.28,10.21],"nice":false,"zero":false},"axis":{"values":[-10,-7.5,-5,-2.5,0,2.5,5,7.5,10],"format":".1f","title":"Distance from weld centre [mm]"}},
"y":{"field":"y","type":"quantitative","scale":{"domain":[-0.018,0.402],"nice":false,"zero":false},"axis":{"values":[0,0.05,0.1,0.15,0.2,0.25,0.3,0.35,0.4],"format":".2f","title":"FWHM [°]"}},
"color":{"field":"s","type":"nominal","scale":{"domain":["B2N","B2A","BCC","FCC","L12","C14","SIG","T2N","T2C"],"range":["#1f7a1f","#ff0000","#000000","#0a14d8","#ff00ff","#7f1f7f","#ffb000","#7a1022","#14898f"]},"legend":null}}},
{"data":{"name":"c"},"mark":{"type":"point","shape":"M0,-1L0.951,-0.309L0.588,0.809L-0.588,0.809L-0.951,-0.309Z","size":55,"filled":true,"strokeWidth":1.1,"opacity":1},"encoding":{"x":{"field":"x","type":"quantitative"},"y":{"field":"y","type":"quantitative"},"fill":{"field":"s","type":"nominal","scale":{"domain":["B2N","B2A","BCC","FCC","L12","C14","SIG","T2N","T2C"],"range":["#0a5c0a","#d40000","#ffffff","#ffffff","#ffffff","#ffffff","#ffffff","#ffffff","#ffffff"]},"legend":null},
"stroke":{"field":"s","type":"nominal","scale":{"domain":["B2N","B2A","BCC","FCC","L12","C14","SIG","T2N","T2C"],"range":["#000000","#000000","#444444","#2a3cff","#ff30ff","#9a2f9a","#ffb000","#a03030","#1a959b"]},"legend":null}}},
{"data":{"name":"zones"},"transform":[{"filter":"datum.k=='g'"}],"mark":{"type":"rule","color":"#a9a9a9","strokeWidth":3,"strokeDash":[13,5]},"encoding":{"x":{"field":"x","type":"quantitative"},"x2":{"field":"x2"},"y":{"datum":0.0037}}},
{"data":{"name":"zones"},"transform":[{"filter":"datum.k=='o'"}],"mark":{"type":"rule","color":"#f5891f","strokeWidth":3,"strokeDash":[15,4]},"encoding":{"x":{"field":"x","type":"quantitative"},"x2":{"field":"x2"},"y":{"datum":0.0037}}},
{"data":{"name":"zones"},"transform":[{"filter":"datum.k=='f'"}],"mark":{"type":"rule","color":"#e8743b","strokeWidth":3},"encoding":{"x":{"field":"x","type":"quantitative"},"x2":{"field":"x2"},"y":{"datum":0.0037}}},
{"data":{"name":"zones"},"transform":[{"filter":"datum.k=='t'"}],"mark":{"type":"rule","color":"#0e9a9a","strokeWidth":3,"strokeDash":[13,5]},"encoding":{"x":{"field":"x","type":"quantitative"},"x2":{"field":"x2"},"y":{"datum":0.0037}}},
{"data":{"name":"zones"},"transform":[{"filter":"datum.k=='s'"}],"mark":{"type":"rule","color":"#0e9a9a","strokeWidth":3},"encoding":{"x":{"field":"x","type":"quantitative"},"x2":{"field":"x2"},"y":{"datum":0.0037}}},
{"data":{"values":[{}]},"mark":{"type":"point","shape":"triangle-left","filled":true,"color":"#0e9a9a","size":70,"opacity":1},"encoding":{"x":{"datum":3.75},"y":{"datum":0.0037}}},
{"data":{"values":[{}]},"mark":{"type":"point","shape":"triangle-right","filled":true,"color":"#0e9a9a","size":70,"opacity":1},"encoding":{"x":{"datum":8.45},"y":{"datum":0.0037}}},
{"data":{"values":[{}]},"mark":{"type":"point","shape":"circle","filled":true,"color":"#0e9a9a","size":35,"opacity":1},"encoding":{"x":{"datum":5.75},"y":{"datum":0.0037}}},
{"data":{"values":[{}]},"mark":{"type":"point","shape":"circle","filled":true,"color":"#0e9a9a","size":35,"opacity":1},"encoding":{"x":{"datum":6.05},"y":{"datum":0.0037}}},
{"data":{"name":"zlab"},"transform":[{"filter":"datum.r=='u'"}],"mark":{"type":"text","font":"Liberation Sans","fontWeight":"bold","fontSize":16,"color":"#000"},"encoding":{"x":{"field":"x","type":"quantitative"},"text":{"field":"t","type":"nominal"},"y":{"datum":0.016}}},
{"data":{"name":"zlab"},"transform":[{"filter":"datum.r=='l'"}],"mark":{"type":"text","font":"Liberation Sans","fontWeight":"bold","fontSize":16,"color":"#000"},"encoding":{"x":{"field":"x","type":"quantitative"},"text":{"field":"t","type":"nominal"},"y":{"datum":-0.0074}}},
{"data":{"values":[{}]},"mark":{"type":"text","text":"(c)","align":"left","baseline":"top","font":"Liberation Sans","fontWeight":"bold","fontSize":26,"color":"#1c3557"},"encoding":{"x":{"datum":-13.34},"y":{"datum":0.4075}}}
]},
{"width":487,"height":382,
"layer":[
{"data":{"name":"d"},"mark":{"type":"line","strokeWidth":2},"encoding":{"x":{"field":"x","type":"quantitative","scale":{"domain":[-10.28,10.33],"nice":false,"zero":false},"axis":{"values":[-10,-7.5,-5,-2.5,0,2.5,5,7.5,10],"format":".1f","title":"Distance from weld centre [mm]"}},
"y":{"field":"y","type":"quantitative","scale":{"domain":[0.02087,0.05183],"nice":false,"zero":false},"axis":{"values":[0.025,0.03,0.035,0.04,0.045,0.05],"format":".3f","title":"FWHM [°]"}},
"color":{"field":"s","type":"nominal","scale":{"domain":["B2N","B2A","BCC","FCC","L12","C14","SIG","T2N","T2C"],"range":["#1f7a1f","#ff0000","#000000","#0a14d8","#ff00ff","#7f1f7f","#ffb000","#b03a3a","#14898f"]},"legend":null}}},
{"data":{"name":"d"},"mark":{"type":"point","shape":"M0,-1L0.951,-0.309L0.588,0.809L-0.588,0.809L-0.951,-0.309Z","size":55,"filled":true,"strokeWidth":1.1,"opacity":1},"encoding":{"x":{"field":"x","type":"quantitative"},"y":{"field":"y","type":"quantitative"},"fill":{"field":"s","type":"nominal","scale":{"domain":["B2N","B2A","BCC","FCC","L12","C14","SIG","T2N","T2C"],"range":["#0a5c0a","#d40000","#ffffff","#ffffff","#ffffff","#ffffff","#ffffff","#ffffff","#ffffff"]},"legend":null},
"stroke":{"field":"s","type":"nominal","scale":{"domain":["B2N","B2A","BCC","FCC","L12","C14","SIG","T2N","T2C"],"range":["#000000","#000000","#444444","#2a3cff","#ff30ff","#9a2f9a","#ffb000","#b03a3a","#1a959b"]},"legend":null}}},
{"data":{"name":"zones"},"transform":[{"filter":"datum.k=='g'"}],"mark":{"type":"rule","color":"#a9a9a9","strokeWidth":3,"strokeDash":[13,5]},"encoding":{"x":{"field":"x","type":"quantitative"},"x2":{"field":"x2"},"y":{"datum":0.02276}}},
{"data":{"name":"zones"},"transform":[{"filter":"datum.k=='o'"}],"mark":{"type":"rule","color":"#f5891f","strokeWidth":3,"strokeDash":[15,4]},"encoding":{"x":{"field":"x","type":"quantitative"},"x2":{"field":"x2"},"y":{"datum":0.02276}}},
{"data":{"name":"zones"},"transform":[{"filter":"datum.k=='f'"}],"mark":{"type":"rule","color":"#e8743b","strokeWidth":3},"encoding":{"x":{"field":"x","type":"quantitative"},"x2":{"field":"x2"},"y":{"datum":0.02276}}},
{"data":{"name":"zones"},"transform":[{"filter":"datum.k=='t'"}],"mark":{"type":"rule","color":"#0e9a9a","strokeWidth":3,"strokeDash":[13,5]},"encoding":{"x":{"field":"x","type":"quantitative"},"x2":{"field":"x2"},"y":{"datum":0.02276}}},
{"data":{"name":"zones"},"transform":[{"filter":"datum.k=='s'"}],"mark":{"type":"rule","color":"#0e9a9a","strokeWidth":3},"encoding":{"x":{"field":"x","type":"quantitative"},"x2":{"field":"x2"},"y":{"datum":0.02276}}},
{"data":{"values":[{}]},"mark":{"type":"point","shape":"triangle-left","filled":true,"color":"#0e9a9a","size":70,"opacity":1},"encoding":{"x":{"datum":3.75},"y":{"datum":0.02276}}},
{"data":{"values":[{}]},"mark":{"type":"point","shape":"triangle-right","filled":true,"color":"#0e9a9a","size":70,"opacity":1},"encoding":{"x":{"datum":8.45},"y":{"datum":0.02276}}},
{"data":{"values":[{}]},"mark":{"type":"point","shape":"circle","filled":true,"color":"#0e9a9a","size":35,"opacity":1},"encoding":{"x":{"datum":5.75},"y":{"datum":0.02276}}},
{"data":{"values":[{}]},"mark":{"type":"point","shape":"circle","filled":true,"color":"#0e9a9a","size":35,"opacity":1},"encoding":{"x":{"datum":6.05},"y":{"datum":0.02276}}},
{"data":{"name":"zlab"},"transform":[{"filter":"datum.r=='u'"}],"mark":{"type":"text","font":"Liberation Sans","fontWeight":"bold","fontSize":16,"color":"#000"},"encoding":{"x":{"field":"x","type":"quantitative"},"text":{"field":"t","type":"nominal"},"y":{"datum":0.0237}}},
{"data":{"name":"zlab"},"transform":[{"filter":"datum.r=='l'"}],"mark":{"type":"text","font":"Liberation Sans","fontWeight":"bold","fontSize":16,"color":"#000"},"encoding":{"x":{"field":"x","type":"quantitative"},"text":{"field":"t","type":"nominal"},"y":{"datum":0.02195}}},
{"data":{"values":[{}]},"mark":{"type":"text","text":"(d)","align":"left","baseline":"top","font":"Liberation Sans","fontWeight":"bold","fontSize":26,"color":"#1c3557"},"encoding":{"x":{"datum":-13.95},"y":{"datum":0.05215}}}
]}
]
}
